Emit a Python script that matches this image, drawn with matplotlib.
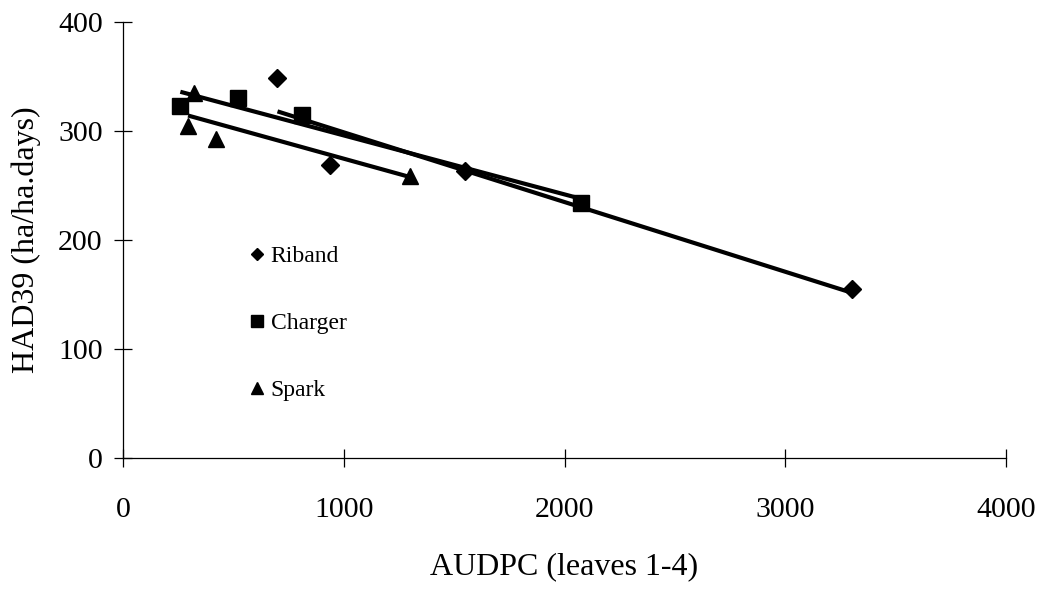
import numpy as np
import matplotlib
matplotlib.use('Agg')
import matplotlib.pyplot as plt
from matplotlib.lines import Line2D

plt.rcParams['font.family'] = ['Liberation Serif', 'DejaVu Serif']

# AUDPC vs HAD39 for three wheat varieties
riband_x = [700, 940, 1550, 3300]
riband_y = [349, 269, 263, 155]
charger_x = [260, 520, 810, 2075]
charger_y = [323, 330, 315, 234]
spark_x = [320, 295, 420, 1300]
spark_y = [335, 305, 293, 259]

xticks = [0, 1000, 2000, 3000, 4000]
yticks = [0, 100, 200, 300, 400]

fig = plt.figure(figsize=(10.42, 5.89), dpi=100)
ax = fig.add_axes([0.118, 0.2224, 0.8475, 0.7402])

series = [
    ('Riband', riband_x, riband_y, 'D', 9, 6),
    ('Charger', charger_x, charger_y, 's', 11.5, 9),
    ('Spark', spark_x, spark_y, '^', 11, 9),
]

handles = []
for name, xs, ys, m, ms, lms in series:
    ax.plot(xs, ys, linestyle='none', marker=m, markersize=ms, color='black')
    # linear trendline over the series range
    k, b = np.polyfit(xs, ys, 1)
    xl = np.array([min(xs), max(xs)])
    ax.plot(xl, k * xl + b, color='black', linewidth=3, solid_capstyle='butt')
    handles.append(Line2D([], [], linestyle='none', marker=m,
                          markersize=lms, color='black', label=name))

ax.set_xlim(0, 4000)
ax.set_ylim(0, 400)
ax.set_xticks(xticks)
ax.set_yticks(yticks)
ax.tick_params(direction='inout', length=13, width=0.9, labelsize=21.5)
ax.tick_params(axis='x', pad=21.5)
ax.tick_params(axis='y', pad=8)

for s in ['top', 'right']:
    ax.spines[s].set_visible(False)
for s in ['left', 'bottom']:
    ax.spines[s].set_linewidth(0.9)

ax.set_xlabel('AUDPC (leaves 1-4)', fontsize=23, labelpad=21)
ax.set_ylabel('HAD39 (ha/ha.days)', fontsize=23, labelpad=12)

ax.legend(handles=handles, frameon=False, fontsize=17, loc='upper left',
          bbox_to_anchor=(0.13, 0.515), labelspacing=1.93, handlelength=0.6,
          handletextpad=0.3, borderpad=0)

fig.savefig('out.png', dpi=100)
